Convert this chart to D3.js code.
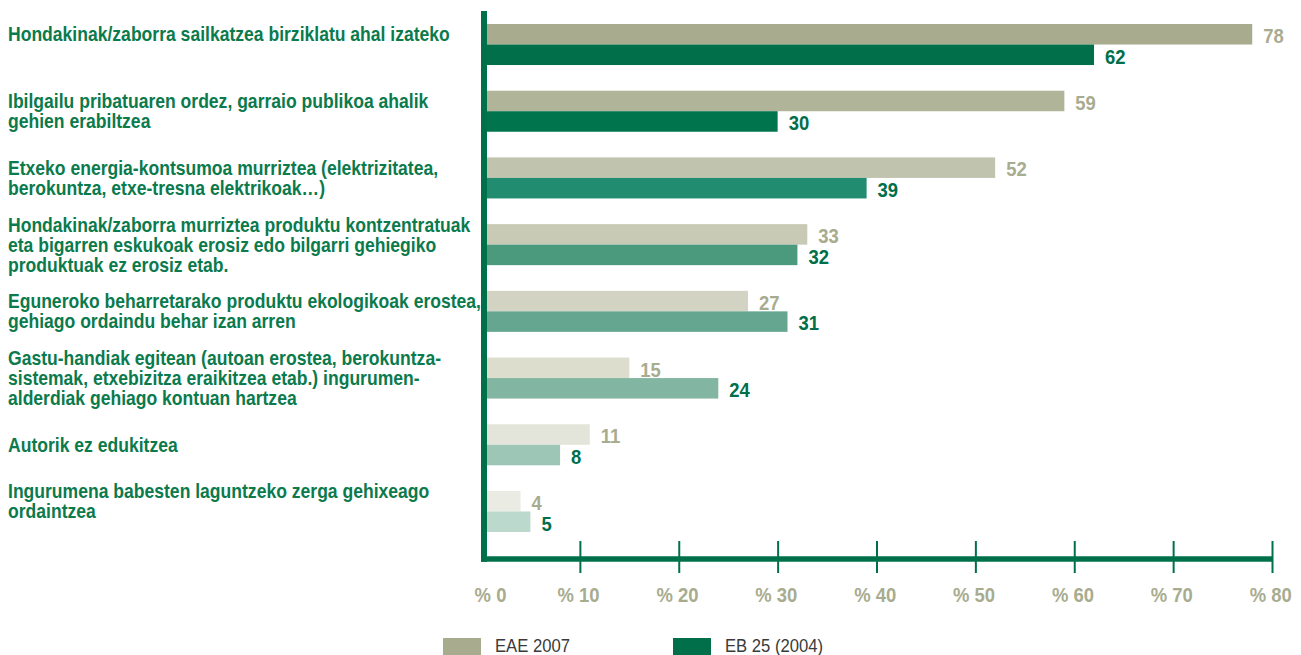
<!DOCTYPE html>
<html><head><meta charset="utf-8">
<script src="https://cdn.jsdelivr.net/npm/d3@7"></script>
<style>
html,body{margin:0;padding:0;background:#fff;}
svg{display:block;font-family:"Liberation Sans",Arial,sans-serif;}
</style></head><body>
<svg id="chart" width="1301" height="655"></svg>
<script>
const categories = [
  ["Hondakinak/zaborra sailkatzea birziklatu ahal izateko", ""],
  ["Ibilgailu pribatuaren ordez, garraio publikoa ahalik", "gehien erabiltzea"],
  ["Etxeko energia-kontsumoa murriztea (elektrizitatea,", "berokuntza, etxe-tresna elektrikoak…)"],
  ["Hondakinak/zaborra murriztea produktu kontzentratuak", "eta bigarren eskukoak erosiz edo bilgarri gehiegiko", "produktuak ez erosiz etab."],
  ["Eguneroko beharretarako produktu ekologikoak erostea,", "gehiago ordaindu behar izan arren"],
  ["Gastu-handiak egitean (autoan erostea, berokuntza-", "sistemak, etxebizitza eraikitzea etab.) ingurumen-", "alderdiak gehiago kontuan hartzea"],
  ["Autorik ez edukitzea"],
  ["Ingurumena babesten laguntzeko zerga gehixeago", "ordaintzea", ""]
];
const seriesNames = ["EAE 2007", "EB 25 (2004)"];
const eae2007 = [78, 59, 52, 33, 27, 15, 11, 4];
const eb2004  = [62, 30, 39, 32, 31, 24, 8, 5];
const tickValues = [0, 10, 20, 30, 40, 50, 60, 70, 80];
const tickLabels = ["% 0", "% 10", "% 20", "% 30", "% 40", "% 50", "% 60", "% 70", "% 80"];

// styles
const eaeColors = ["#a8ab8e", "#b0b499", "#c0c3ad", "#c8cab5", "#d2d3c2", "#dcddcd", "#e3e4da", "#eaebe3"];
const ebColors  = ["#006f4a", "#00744c", "#218c70", "#4b9a7e", "#64a690", "#82b6a3", "#9dc6b7", "#bcd9ce"];
const labelGreen = "#0b7a4c";
const axisGreen = "#00704a";
const eaeText = "#a8ac8f";
const ebText = "#006f4a";

const svg = d3.select("#chart");
const idx = d3.range(categories.length);

// condensed look: measure and squeeze horizontally
const probe = svg.append("text").attr("font-size", 19.5).attr("font-weight", "bold").text(categories[0][0]);
const probeW = probe.node().getComputedTextLength();
probe.remove();
const sx = Math.min(1, 442 / probeW);

const x = d3.scaleLinear().domain([0, 80]).range([481, 1272]);
const y = d3.scaleBand().domain(idx).range([24, 532]).paddingInner(0.385).paddingOuter(0);
const ySub = d3.scaleBand().domain([0, 1]).range([0, y.bandwidth()]);

const series = [eae2007, eb2004];

// bars
idx.forEach(i => {
  series.forEach((vals, s) => {
    svg.append("rect")
      .attr("x", x(0))
      .attr("y", y(i) + ySub(s))
      .attr("width", x(vals[i]) - x(0))
      .attr("height", ySub.bandwidth())
      .attr("fill", s === 0 ? eaeColors[i] : ebColors[i]);
    svg.append("text")
      .attr("transform", `translate(${x(vals[i]) + 11},${y(i) + ySub(s) + ySub.bandwidth() - 1.5}) scale(${sx},1)`)
      .attr("font-size", 20.5)
      .attr("font-weight", "bold")
      .attr("fill", s === 0 ? eaeText : ebText)
      .text(vals[i]);
  });
});

// category labels
const lineH = 20;
idx.forEach(i => {
  const lines = categories[i];
  const c = y(i) + y.bandwidth() / 2;
  const first = c - (lines.length - 1) * lineH / 2 + 7;
  const t = svg.append("text")
    .attr("transform", `translate(8,0) scale(${sx},1)`)
    .attr("font-size", 19.5)
    .attr("font-weight", "bold")
    .attr("fill", labelGreen);
  lines.forEach((ln, k) => {
    t.append("tspan").attr("x", 0).attr("y", first + k * lineH).text(ln);
  });
});

// x axis
const axisY = 559;
const ax = svg.append("g").attr("transform", `translate(0,${axisY})`)
  .call(d3.axisBottom(x).tickValues(tickValues).tickFormat((d, i) => tickLabels[i]).tickSize(0));
ax.select(".domain").remove();
ax.selectAll(".tick line")
  .attr("y1", -18).attr("y2", 14)
  .attr("stroke", axisGreen).attr("stroke-width", 2)
  .attr("opacity", d => d === 0 ? 0 : 1);
ax.selectAll(".tick text")
  .attr("y", 43).attr("dy", null)
  .attr("dx", d => d === 0 ? 10 : -2)
  .attr("transform", `scale(${sx},1)`)
  .attr("font-family", null)
  .attr("font-size", 20.5)
  .attr("font-weight", "bold")
  .attr("fill", eaeText);

// axis lines
svg.append("line")
  .attr("x1", x(0)).attr("x2", x(80))
  .attr("y1", axisY).attr("y2", axisY)
  .attr("stroke", axisGreen).attr("stroke-width", 5.5);
svg.append("line")
  .attr("x1", x(0) + 3).attr("x2", x(0) + 3)
  .attr("y1", 11).attr("y2", axisY + 2.75)
  .attr("stroke", axisGreen).attr("stroke-width", 6);

// legend
const legend = [{name: seriesNames[0], color: eaeColors[0], x: 443}, {name: seriesNames[1], color: ebColors[0], x: 673}];
legend.forEach(l => {
  svg.append("rect").attr("x", l.x).attr("y", 638).attr("width", 38).attr("height", 17).attr("fill", l.color);
  svg.append("text")
    .attr("transform", `translate(${l.x + 52},652) scale(${sx},1)`)
    .attr("font-size", 18.5).attr("fill", "#3a3a3a").text(l.name);
});
</script>
</body></html>
